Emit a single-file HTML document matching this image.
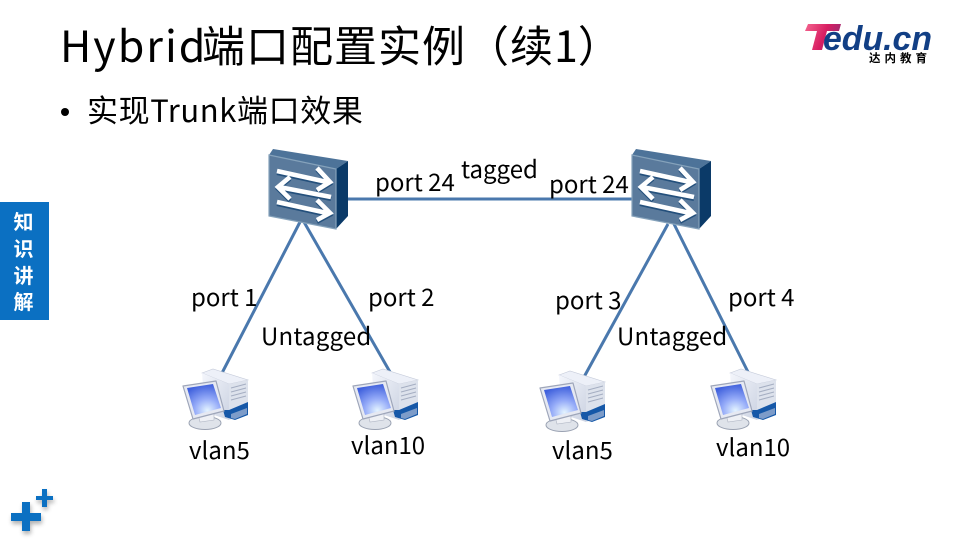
<!DOCTYPE html>
<html><head><meta charset="utf-8"><style>
html,body{margin:0;padding:0;background:#fff}
svg{display:block}
text{font-family:"Noto Sans CJK SC","Liberation Sans",sans-serif;fill:#000}
.l{font-size:24px}
</style></head><body>
<svg width="960" height="540" viewBox="0 0 960 540" xmlns="http://www.w3.org/2000/svg">
<defs>
<linearGradient id="logoT" x1="0" y1="0" x2="1" y2="0.3"><stop offset="0" stop-color="#f4668f"/><stop offset="0.6" stop-color="#d81e62"/><stop offset="1" stop-color="#a02a70"/></linearGradient>
<radialGradient id="scr" cx="0.6" cy="0.85" r="0.85"><stop offset="0" stop-color="#e4f4ff"/><stop offset="0.45" stop-color="#94aaf8"/><stop offset="1" stop-color="#3f60dc"/></radialGradient>
<linearGradient id="tw" x1="0" y1="0" x2="1" y2="1"><stop offset="0" stop-color="#f4f6fc"/><stop offset="1" stop-color="#ccd3e2"/></linearGradient>
<filter id="sh" x="-30%" y="-30%" width="170%" height="170%"><feGaussianBlur stdDeviation="2"/></filter>
<g id="sw">
<polygon points="269,155 273,149 348,161 336,169" fill="#4d7399"/>
<polygon points="336,169 348,161 348,216 336,229" fill="#0b3a68"/>
<polygon points="269,155 336,169 336,229 269,216" fill="#5a7a9c" stroke="#85a2bb" stroke-width="1.2"/>
<g fill="none" stroke="#24507c" stroke-width="4" transform="translate(0,2)">
<path d="M277,171 L327,182 M317,168 L330,182 L317,190"/>
<path d="M331,197 L279,187 M290,177 L278,187 L290,199"/>
<path d="M277,202 L327,213 M317,200 L330,213 L317,220"/>
</g>
<g fill="none" stroke="#fff" stroke-width="4.6">
<path d="M277,171 L327,182 M317,168 L330,182 L317,190"/>
<path d="M331,197 L279,187 M290,177 L278,187 L290,199"/>
<path d="M277,202 L327,213 M317,200 L330,213 L317,220"/>
</g>
</g>
<g id="pc">
<polygon points="202,373 213,369 248,380 229,384" fill="#edf0f8" stroke="#c5cbda" stroke-width=".6"/>
<polygon points="202,373 229,384 229,420 205,412" fill="url(#tw)"/>
<polygon points="229,384 248,380 248,415 229,420" fill="#dde2ec"/>
<g stroke="#a5aec2" stroke-width="1" fill="none"><path d="M231,388 L246,384 M231,392 L246,388 M231,396 L246,392 M231,400 L246,396"/></g>
<polygon points="223,410 229,410 248,402 248,415 235,420 225,417" fill="#1658a8"/>
<polygon points="231,414 247,408 247,414 235,419 231,418" fill="#7d9cc9"/>
<ellipse cx="205" cy="423" rx="16" ry="6.5" fill="#dfe3ea" stroke="#9aa2b2" stroke-width="1"/>
<polygon points="198,414 214,411 214,420 200,422" fill="#eef0f5" stroke="#b0b6c4" stroke-width=".6"/>
<polygon points="183,386 216,381 224,411 193,419" fill="#e6e9f2" stroke="#9ea6ba" stroke-width="1.2" stroke-linejoin="round"/>
<polygon points="187,388 213,384 221,408 195,415" fill="url(#scr)"/>
</g>
</defs>

<text y="62" font-size="43"><tspan x="60" letter-spacing="2">Hybrid</tspan><tspan x="202" letter-spacing="1">端口配置实例（续</tspan><tspan letter-spacing="0">1）</tspan></text>
<circle cx="65" cy="112" r="4" fill="#000"/>
<text x="87" y="122" font-size="31" letter-spacing="0.6">实现Trunk端口效果</text>

<!-- logo -->
<path d="M808,24 L841,24 L839,31 L827,31 L822,50 L812,50 L817,31 L805,31 Z" fill="url(#logoT)"/>
<text x="823" y="50" font-size="34" font-weight="700" style="font-family:'Liberation Sans',sans-serif;fill:#123f85;font-style:italic" textLength="109" lengthAdjust="spacingAndGlyphs">edu.cn</text>
<text x="869" y="62" font-size="11.5" font-weight="700" letter-spacing="4">达内教育</text>

<!-- side tab -->
<rect x="0" y="202" width="49" height="118" fill="#0b70c2"/>
<g font-size="20" font-weight="700" text-anchor="middle">
<text x="23.5" y="229" style="fill:#fff">知</text>
<text x="23.5" y="256" style="fill:#fff">识</text>
<text x="23.5" y="283" style="fill:#fff">讲</text>
<text x="23.5" y="309" style="fill:#fff">解</text>
</g>

<!-- plus -->
<path d="M22,502 H30 V513 H41 V521 H30 V531 H22 V521 H11 V513 H22 Z M42,489 H47 V496 H53 V500 H47 V507 H42 V500 H36 V496 H42 Z" fill="#555" opacity="0.45" transform="translate(1,3)" filter="url(#sh)"/>
<path d="M22,502 H30 V513 H41 V521 H30 V531 H22 V521 H11 V513 H22 Z" fill="#0b70c2"/>
<path d="M42,489 H47 V496 H53 V500 H47 V507 H42 V500 H36 V496 H42 Z" fill="#0b70c2"/>

<!-- links -->
<g stroke="#4a78ad" stroke-width="3" fill="none">
<line x1="345" y1="199" x2="634" y2="199"/>
<line x1="300" y1="222" x2="222" y2="373"/>
<line x1="304" y1="222" x2="390" y2="372"/>
<line x1="668" y1="224" x2="584" y2="377"/>
<line x1="674" y1="224" x2="750" y2="376"/>
</g>

<use href="#sw"/>
<use href="#sw" transform="translate(363,0)"/>
<use href="#pc"/>
<use href="#pc" transform="translate(170,0)"/>
<use href="#pc" transform="translate(357,2)"/>
<use href="#pc" transform="translate(528,0)"/>

<text class="l" x="375" y="191">port 24</text>
<text class="l" x="461" y="178">tagged</text>
<text class="l" x="549" y="193">port 24</text>
<text class="l" x="191" y="306">port 1</text>
<text class="l" x="368" y="306">port 2</text>
<text class="l" x="555" y="309">port 3</text>
<text class="l" x="728" y="306">port 4</text>
<text class="l" x="261" y="345" style="letter-spacing:.2px">Untagged</text>
<text class="l" x="617" y="345" style="letter-spacing:.2px">Untagged</text>
<text class="l" x="189" y="459">vlan5</text>
<text class="l" x="351" y="454">vlan10</text>
<text class="l" x="552" y="459">vlan5</text>
<text class="l" x="716" y="456">vlan10</text>
</svg>
</body></html>
